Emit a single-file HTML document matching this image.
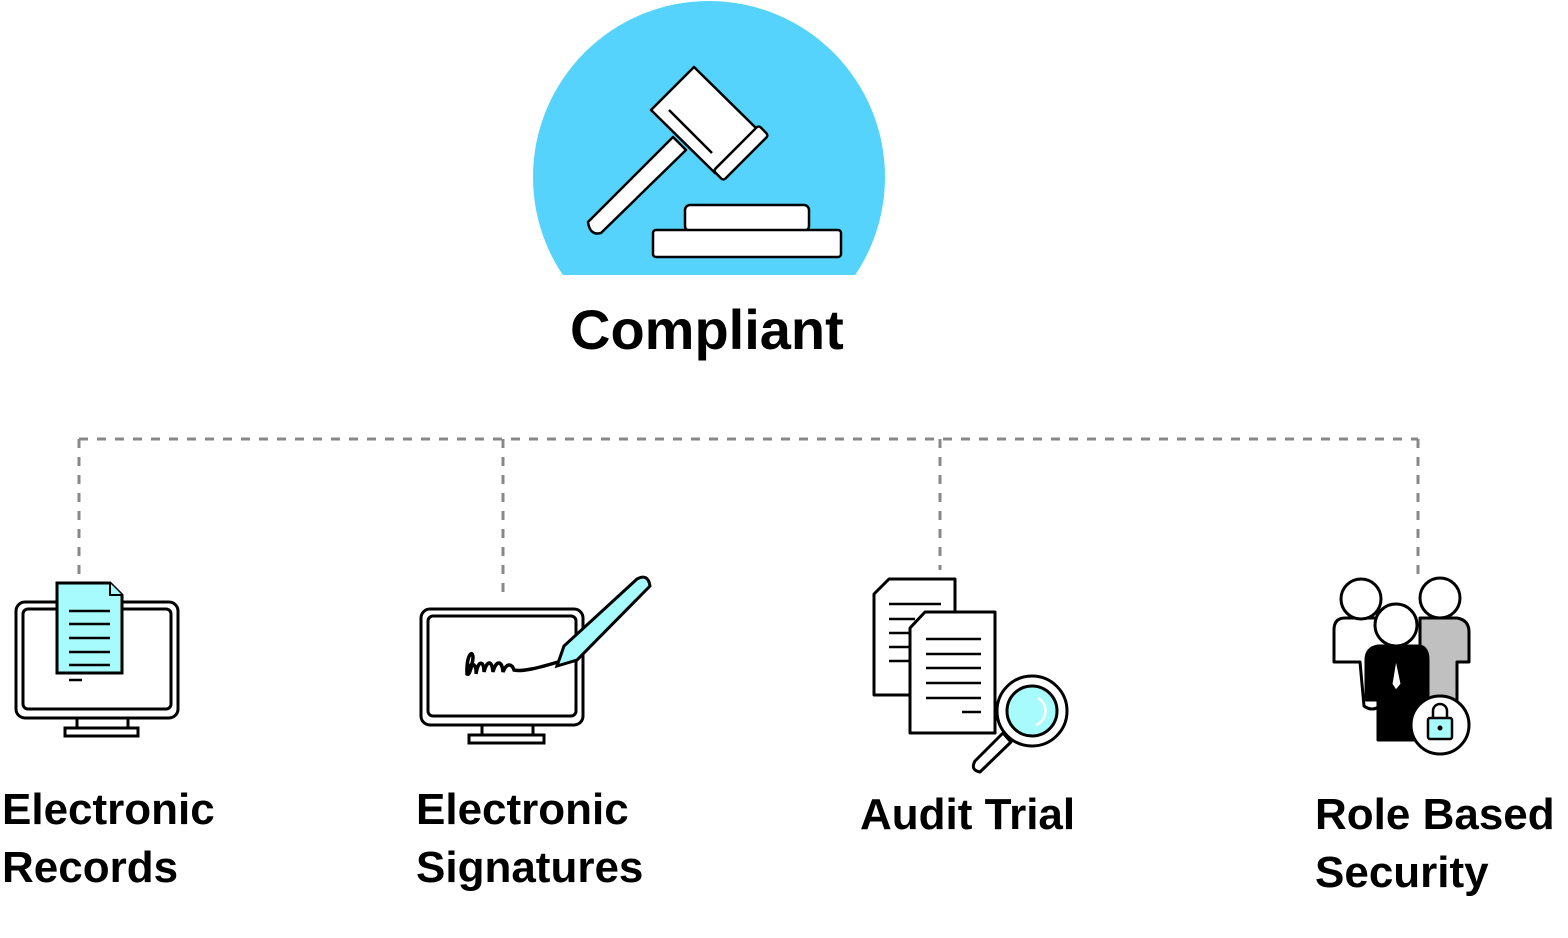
<!DOCTYPE html>
<html><head><meta charset="utf-8"><style>
html,body{margin:0;padding:0;background:#fff;}
body{width:1568px;height:938px;position:relative;overflow:hidden;font-family:"Liberation Sans",Arial,sans-serif;}
.t{position:absolute;color:#000;font-weight:bold;line-height:1;}
</style></head><body>
<svg width="1568" height="938" style="position:absolute;left:0;top:0" xmlns="http://www.w3.org/2000/svg">
<defs><clipPath id="cc"><rect x="0" y="0" width="1568" height="275"/></clipPath></defs>
<circle cx="709" cy="177" r="176" fill="#55d3fc" clip-path="url(#cc)"/>
<g stroke="#000" stroke-width="2.5" fill="#fff" stroke-linejoin="round">
<path d="M673,137 L588,222 Q590,236 601,233 L686,150 Z"/>
<polygon points="694,67 651,110 715,173 758,130"/>
<line x1="669" y1="110" x2="712" y2="153"/>
<rect x="709" y="146" width="64" height="14" rx="3" transform="rotate(-45 741 153)" />
<rect x="685" y="205" width="124" height="26" rx="5"/>
<rect x="653" y="230" width="188" height="27" rx="3"/>
</g>
<g stroke="#888" stroke-width="3" stroke-dasharray="9,9" fill="none">
<line x1="79" y1="439" x2="1418" y2="439"/>
<line x1="79" y1="439" x2="79" y2="576"/>
<line x1="503" y1="439" x2="503" y2="600"/>
<line x1="940" y1="439" x2="940" y2="570"/>
<line x1="1418" y1="439" x2="1418" y2="576"/>
</g>
<g stroke="#000" stroke-width="3" fill="#fff">
<rect x="16" y="602" width="162" height="116" rx="9"/>
<rect x="23" y="609" width="148" height="100" rx="5"/>
<rect x="77" y="718" width="51" height="11"/>
<rect x="65" y="728" width="73" height="8"/>
<path d="M57,583 L110,583 L122,595 L122,673 L57,673 Z" fill="#a8fbfd"/>
<path d="M110,583 L110,595 L122,595" fill="#a8fbfd" stroke-width="2"/>
<g stroke-width="2.5"><line x1="69" y1="611" x2="110" y2="611"/><line x1="69" y1="624" x2="110" y2="624"/><line x1="69" y1="638" x2="110" y2="638"/><line x1="69" y1="652" x2="110" y2="652"/><line x1="69" y1="665" x2="110" y2="665"/><line x1="69" y1="680" x2="82" y2="680"/></g>
</g>
<g stroke="#000" stroke-width="3" fill="#fff">
<rect x="421" y="609" width="162" height="116" rx="9"/>
<rect x="428" y="616" width="148" height="100" rx="5"/>
<rect x="482" y="725" width="51" height="11"/>
<rect x="469" y="735" width="75" height="8"/>
<path d="M467,674 C466,650 476,648 472,664 C469,678 466,676 469,668 C472,660 477,666 476,674 C478,660 484,660 484,672 C487,660 492,660 493,672 C496,660 502,660 503,672 C507,662 512,664 514,670 C522,672 538,668 558,662" fill="none" stroke-width="3.5" stroke-linecap="round"/>
<path d="M637,579 Q648,573 650,586 L577,660 L557,666 L564,646 Z" fill="#a8fbfd"/>
</g>
<g stroke="#000" stroke-width="3" fill="#fff" stroke-linejoin="round">
<path d="M874,594 L889,579 L955,579 L955,695 L874,695 Z"/>
<g stroke-width="2.5"><line x1="889" y1="604" x2="941" y2="604"/><line x1="889" y1="619" x2="915" y2="619"/><line x1="889" y1="633" x2="915" y2="633"/><line x1="889" y1="647" x2="915" y2="647"/><line x1="889" y1="661" x2="915" y2="661"/></g>
<path d="M910,628 L925,612 L995,612 L995,733 L910,733 Z"/>
<g stroke-width="2.5"><line x1="926" y1="639" x2="981" y2="639"/><line x1="926" y1="654" x2="981" y2="654"/><line x1="926" y1="668" x2="981" y2="668"/><line x1="926" y1="683" x2="981" y2="683"/><line x1="926" y1="698" x2="981" y2="698"/><line x1="962" y1="712" x2="981" y2="712"/></g>
<path d="M1003,733 L975,761 Q970,770 980,772 L1011,742 Z"/>
<circle cx="1032" cy="711" r="35"/>
<circle cx="1032" cy="711" r="25" fill="#a8fbfd"/>
<path d="M1038,698 A15,15 0 0 1 1036,725" stroke="#fff" stroke-width="2.5" fill="none"/>
</g>
<g stroke="#000" stroke-width="3" stroke-linejoin="round">
<path d="M1345,618 L1380,618 Q1394,620 1394,634 L1394,705 Q1388,712 1380,706 Q1372,712 1364,706 L1360,662 L1347,662 L1334,662 L1334,630 Q1334,618 1345,618 Z" fill="#fff"/>
<circle cx="1361" cy="599" r="20" fill="#fff"/>
<path d="M1420,618 L1457,618 Q1469,620 1469,632 L1469,662 L1457,662 L1457,705 L1420,705 Z" fill="#c0c0c0"/>
<circle cx="1440" cy="598" r="20" fill="#fff"/>
<path d="M1378,646 L1420,646 Q1428,648 1428,660 L1428,700 L1420,700 L1420,740 L1378,740 L1378,700 L1366,700 L1366,660 Q1366,648 1378,646 Z" fill="#000"/>
<circle cx="1396" cy="625" r="21" fill="#fff"/>
<path d="M1396,660 L1401,684 L1396,690 L1392,684 Z" fill="#fff" stroke-width="1"/>
<circle cx="1440" cy="725" r="29" fill="#fff"/>
<rect x="1428" y="718" width="24" height="21" rx="2" fill="#a8fbfd" stroke-width="2.5"/>
<path d="M1433,718 L1433,711 A7,7 0 0 1 1447,711 L1447,718" fill="none" stroke-width="2.5"/>
<circle cx="1440" cy="728" r="2.5" fill="#000" stroke="none"/>
</g>
</svg>
<div class="t" style="left:570px;top:302px;font-size:56px;">Compliant</div>
<div class="t" style="left:2px;top:781px;font-size:44px;line-height:58px;">Electronic<br>Records</div>
<div class="t" style="left:416px;top:781px;font-size:44px;line-height:58px;">Electronic<br>Signatures</div>
<div class="t" style="left:860px;top:793px;font-size:44px;">Audit Trial</div>
<div class="t" style="left:1315px;top:786px;font-size:44px;line-height:58px;white-space:nowrap;">Role Based<br>Security</div>
</body></html>
